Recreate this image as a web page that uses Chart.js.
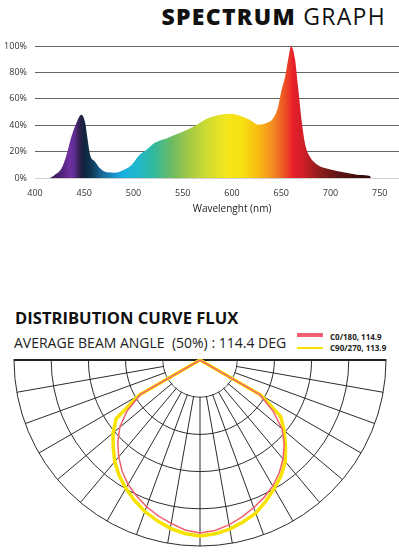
<!DOCTYPE html>
<html>
<head>
<meta charset="utf-8">
<script src="https://cdn.jsdelivr.net/npm/chart.js@4.4.1/dist/chart.umd.min.js"></script>
<style>
  html, body { margin: 0; padding: 0; background: #fff; overflow: hidden; }
  body { width: 399px; height: 553px; position: relative; font-family: 'Open Sans', 'DejaVu Sans', sans-serif; color: #111; }
  .abs { position: absolute; white-space: nowrap; line-height: 1; }
  #specTitle { top: 4.6px; right: 13px; font-size: 23px; color: #111; letter-spacing: 1.3px; }
  #specTitle b { font-weight: 800; }
  #specTitle span { font-weight: 400; }
  #specWrap { position: absolute; left: 0; top: 0; width: 399px; height: 222px; overflow: hidden; }
  #specWrap canvas { position: absolute; left: 0; top: 0; }
  #distTitle { left: 15px; top: 310.4px; font-size: 16.6px; font-weight: 700; }
  #beam { left: 14px; top: 335.6px; font-size: 14px; font-weight: 400; color: #222; }
  .sw { position: absolute; left: 297px; width: 26px; }
  .lg { position: absolute; left: 330px; font-size: 8px; font-weight: 700; line-height: 1; white-space: nowrap; color: #222; }
  #polarWrap { position: absolute; left: 0; top: 359px; width: 399px; height: 194px; overflow: hidden; }
  #polarWrap canvas { position: absolute; left: 12px; top: -187px; }
</style>
</head>
<body>
<div id="specTitle" class="abs"><b>SPECTRUM</b><span> GRAPH</span></div>
<div id="specWrap"><canvas id="spectrum" width="430" height="215"></canvas></div>

<div id="distTitle" class="abs">DISTRIBUTION CURVE FLUX</div>
<div id="beam" class="abs">AVERAGE BEAM ANGLE&nbsp;&nbsp;(50%) : 114.4 DEG</div>
<div class="sw" style="top:333.3px;height:3.3px;background:#f0606e"></div>
<div class="sw" style="top:346.5px;height:2.8px;background:#f8e200"></div>
<div class="lg" style="top:332.5px">C0/180, 114.9</div>
<div class="lg" style="top:344px">C90/270, 113.9</div>

<div id="polarWrap"><canvas id="polar" width="376" height="376"></canvas></div>

<script>
// spectrum: wavelength (nm) vs relative intensity (%)
const wavelengths = [415, 420, 427, 432, 437, 442, 447, 451, 453, 456, 461, 466, 473, 481, 490, 498,
  506, 513, 522, 534, 547, 561, 574, 588, 598, 608, 618, 627, 635, 642, 647, 650, 654, 657, 660,
  664, 667, 671, 674, 679, 687, 699, 716, 730, 740, 741];
const intensity = [0, 2.3, 7.4, 17.5, 31.4, 41.6, 47.9, 41.6, 31.4, 17.5, 12.4, 7.4, 4.3, 4, 6.1, 9.9,
  17.5, 21.3, 26.9, 30.2, 34, 39, 44.7, 47.9, 48.7, 47.2, 44.1, 40.3, 41.6, 45.4, 54.3, 65.7, 77.1, 89.8, 99.9,
  89.8, 69.5, 41.6, 26.4, 16.2, 9.9, 6.6, 4, 2.3, 1.5, 0];
const xTicks = [400, 450, 500, 550, 600, 650, 700, 750];
const yTicks = [0, 20, 40, 60, 80, 100];

// light distribution: relative intensity (%) every 5 deg from nadir (0) to horizontal (90)
const polarStep = 5;
const c0LeftSide   = [93, 91.7, 89.2, 86.8, 84, 80.7, 77.3, 73, 68, 62.5, 56.3, 48, 37, 0, 0, 0, 0, 0, 0];
const c0RightSide  = [93, 92, 90, 87.3, 84.5, 81.5, 78.2, 74.2, 69.5, 64, 57.5, 48, 37, 0, 0, 0, 0, 0, 0];
const c90LeftSide  = [94.6, 93.6, 91.9, 89.4, 86.7, 83.3, 79.7, 75.8, 71.3, 66, 61, 55, 38, 0, 0, 0, 0, 0, 0];
const c90RightSide = [94.6, 93.8, 92.3, 90, 87.6, 83.8, 79.8, 76, 71.3, 65, 59, 53, 38, 0, 0, 0, 0, 0, 0];
const polarSeries = ['C0/180, 114.9', 'C90/270, 113.9'];

// colour of light along the wavelength axis
const spectrumStops = [
  [415, '#3a1848'], [425, '#4a2070'], [435, '#7030a0'], [440, '#5e2e92'], [445, '#302050'],
  [450, '#10243c'], [458, '#0e3a58'], [468, '#1a6a98'], [480, '#1890c8'], [490, '#18b0e0'],
  [505, '#20b8c8'], [520, '#30b8a0'], [540, '#70bc60'], [555, '#a0c848'], [575, '#d0dc30'],
  [595, '#f4e61c'], [610, '#f8e010'], [625, '#f8c010'], [640, '#f49020'], [652, '#ec5a24'],
  [662, '#e8202a'], [672, '#d01e28'], [690, '#8a1c1c'], [710, '#5a1414'], [740, '#2a0808']
];

const spectrumFill = (context) => {
  const chart = context.chart;
  if (!chart.chartArea) return null;
  const xs = chart.scales.x;
  const x0 = xs.getPixelForValue(400), x1 = xs.getPixelForValue(800);
  const g = chart.ctx.createLinearGradient(x0, 0, x1, 0);
  spectrumStops.forEach(([nm, c]) => g.addColorStop((nm - 400) / 400, c));
  return g;
};

new Chart(document.getElementById('spectrum'), {
  type: 'line',
  data: {
    datasets: [{
      data: wavelengths.map((w, i) => ({ x: w, y: intensity[i] })),
      fill: 'origin',
      backgroundColor: spectrumFill,
      borderWidth: 0,
      pointRadius: 0,
      cubicInterpolationMode: 'monotone'
    }]
  },
  options: {
    responsive: false,
    animation: false,
    layout: { padding: { top: 46, right: 1, left: 0, bottom: 0 } },
    plugins: { legend: { display: false }, tooltip: { enabled: false } },
    scales: {
      x: {
        type: 'linear',
        min: 400,
        max: 800,
        afterBuildTicks: (s) => { s.ticks = xTicks.map(v => ({ value: v })); },
        afterFit: (s) => { s.height = 37; },
        ticks: { font: { size: 9, family: 'Open Sans' }, color: '#333', padding: 2, maxRotation: 0 },
        grid: { display: false },
        border: { display: false },
        title: {
          display: true,
          text: 'Wavelenght (nm)',
          font: { size: 10, family: 'Open Sans' },
          color: '#222',
          padding: { top: 3, bottom: 0 }
        }
      },
      y: {
        min: 0,
        max: 100,
        afterBuildTicks: (s) => { s.ticks = yTicks.map(v => ({ value: v })); },
        afterFit: (s) => { s.width = 35; },
        ticks: { font: { size: 9, family: 'Open Sans' }, color: '#333', padding: 8, callback: v => v + '%' },
        grid: {
          drawTicks: false,
          color: ctx => ctx.tick && ctx.tick.value === 0 ? '#d0d0d0' : '#666',
          lineWidth: 1
        },
        border: { display: false }
      }
    }
  }
});

// build the radar table: index k sits k*5 deg from nadir, going round through the left side
const nSteps = 360 / polarStep;
const half = 90 / polarStep;
const angleLabels = Array.from({ length: nSteps }, (_, k) => (k * polarStep) + '°');
const fullRing = (left, right) => angleLabels.map((_, k) => {
  if (k <= half) return left[k];
  if (k >= nSteps - half) return right[nSteps - k];
  return 0;
});

const innerHub = {
  id: 'innerHub',
  beforeDatasetsDraw(chart) {
    const r = chart.scales.r;
    const ctx = chart.ctx;
    const r1 = r.getDistanceFromCenterForValue(20);
    ctx.save();
    ctx.fillStyle = '#fff';
    ctx.beginPath();
    ctx.arc(r.xCenter, r.yCenter, r1 - 0.6, 0, Math.PI * 2);
    ctx.fill();
    ctx.strokeStyle = '#222';
    ctx.lineWidth = 2;
    ctx.beginPath();
    ctx.moveTo(r.xCenter - r.drawingArea, r.yCenter);
    ctx.lineTo(r.xCenter + r.drawingArea, r.yCenter);
    ctx.stroke();
    ctx.restore();
  }
};

new Chart(document.getElementById('polar'), {
  type: 'radar',
  data: {
    labels: angleLabels,
    datasets: [
      { label: polarSeries[0], data: fullRing(c0LeftSide, c0RightSide), borderColor: '#f0606e', borderWidth: 1.5, fill: false },
      { label: polarSeries[1], data: fullRing(c90LeftSide, c90RightSide), borderColor: '#f8e200', borderWidth: 3.5, fill: false }
    ]
  },
  options: {
    responsive: false,
    animation: false,
    layout: { padding: 2 },
    plugins: { legend: { display: false }, tooltip: { enabled: false } },
    elements: { point: { radius: 0 }, line: { tension: 0 } },
    scales: {
      r: {
        min: 0,
        max: 100,
        startAngle: 180,
        ticks: { display: false, stepSize: 20 },
        pointLabels: { display: false },
        grid: { circular: true, color: '#2b2b2b', lineWidth: 1 },
        angleLines: { color: '#2b2b2b', lineWidth: ctx => (ctx.index % 2 === 0 ? 1 : 0) }
      }
    }
  },
  plugins: [innerHub]
});
</script>
</body>
</html>
